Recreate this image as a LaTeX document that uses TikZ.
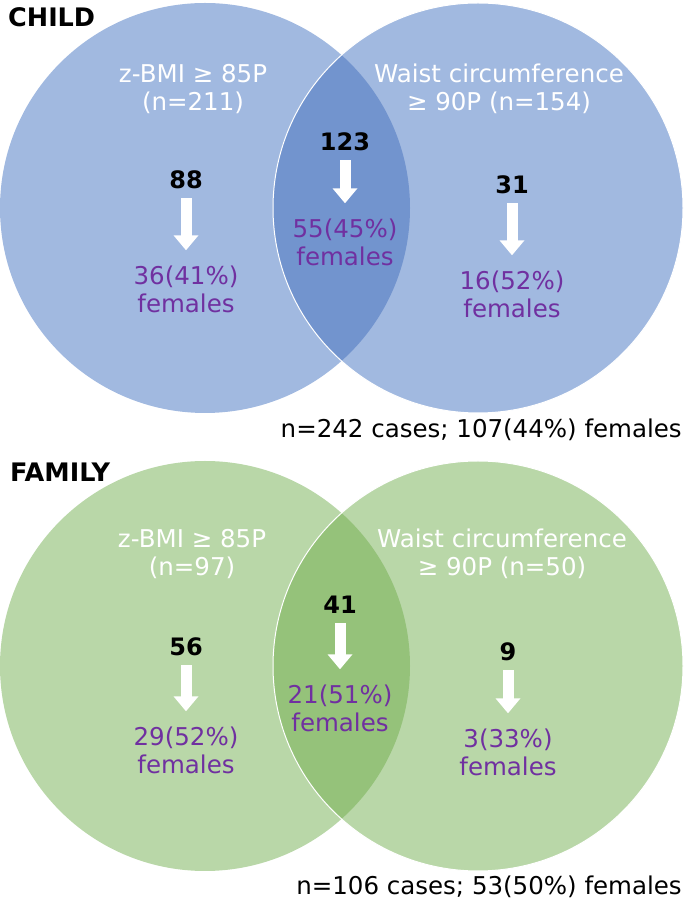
\documentclass[tikz,border=0pt]{standalone}
\usepackage{fontspec}
\setmainfont{DejaVu Sans}
\usetikzlibrary{arrows.meta}

\definecolor{childblue}{HTML}{A1B9E0}
\definecolor{childlens}{HTML}{7294CE}
\definecolor{famgreen}{HTML}{B9D7A8}
\definecolor{famlens}{HTML}{95C27A}
\definecolor{femalepurple}{HTML}{7030A0}

\begin{document}
\begin{tikzpicture}[x=1pt, y=1pt,
    setlabel/.style={text=white, align=center, inner sep=0pt, font=\fontsize{24.5}{28}\selectfont},
    count/.style={inner sep=0pt, font=\fontsize{24}{28}\selectfont\bfseries},
    female/.style={text=femalepurple, align=center, inner sep=0pt, font=\fontsize{24.5}{28}\selectfont},
    total/.style={anchor=east, inner sep=0pt, font=\fontsize{24.5}{28}\selectfont},
    heading/.style={anchor=west, inner sep=0pt, font=\fontsize{25.5}{28}\selectfont\bfseries},
    arrow/.style={white, line width=11pt, -{Triangle[width=24pt, length=15pt]}, shorten <=9pt, shorten >=15pt}]
\useasboundingbox (0,0) rectangle (685,900);

% child
\fill[childblue] (205,692) circle (205);
\fill[childblue] (478,692) circle (205);
\begin{scope}
  \clip (205,692) circle (205);
  \fill[childlens] (478,692) circle (205);
\end{scope}
\draw[white, line width=1pt] (478,692) circle (205);

\node (child) [heading] at (8,883) {CHILD};
\node (cbmi) [setlabel] at (193,811) {z-BMI ≥ 85P\\(n=211)};
\node (cwaist) [setlabel] at (499,811) {Waist circumference\\≥ 90P (n=154)};
\node (c88) [count] at (186,720) {88};
\node (c123) [count] at (345,758) {123};
\node (c31) [count] at (512,715) {31};
\node (cf88) [female] at (186,611) {36(41\%)\\females};
\node (cf123) [female] at (345,658) {55(45\%)\\females};
\node (cf31) [female] at (512,606) {16(52\%)\\females};
\node (ctotal) [total] at (682,470) {n=242 cases; 107(44\%) females};
\draw [arrow] (c88) -- (cf88);
\draw [arrow] (c123) -- (cf123);
\draw [arrow] (c31) -- (cf31);

% family
\fill[famgreen] (205,234) circle (205);
\fill[famgreen] (478,234) circle (205);
\begin{scope}
  \clip (205,234) circle (205);
  \fill[famlens] (478,234) circle (205);
\end{scope}
\draw[white, line width=1pt] (478,234) circle (205);

\node (family) [heading] at (10,428) {FAMILY};
\node (fbmi) [setlabel] at (192,346) {z-BMI ≥ 85P\\(n=97)};
\node (fwaist) [setlabel] at (502,346) {Waist circumference\\≥ 90P (n=50)};
\node (f56) [count] at (186,253) {56};
\node (f41) [count] at (340,295) {41};
\node (f9) [count] at (508,248) {9};
\node (ff56) [female] at (186,150) {29(52\%)\\females};
\node (ff41) [female] at (340,192) {21(51\%)\\females};
\node (ff9) [female] at (508,148) {3(33\%)\\females};
\node (ftotal) [total] at (682,13) {n=106 cases; 53(50\%) females};
\draw [arrow] (f56) -- (ff56);
\draw [arrow] (f41) -- (ff41);
\draw [arrow] (f9) -- (ff9);
\end{tikzpicture}
\end{document}
